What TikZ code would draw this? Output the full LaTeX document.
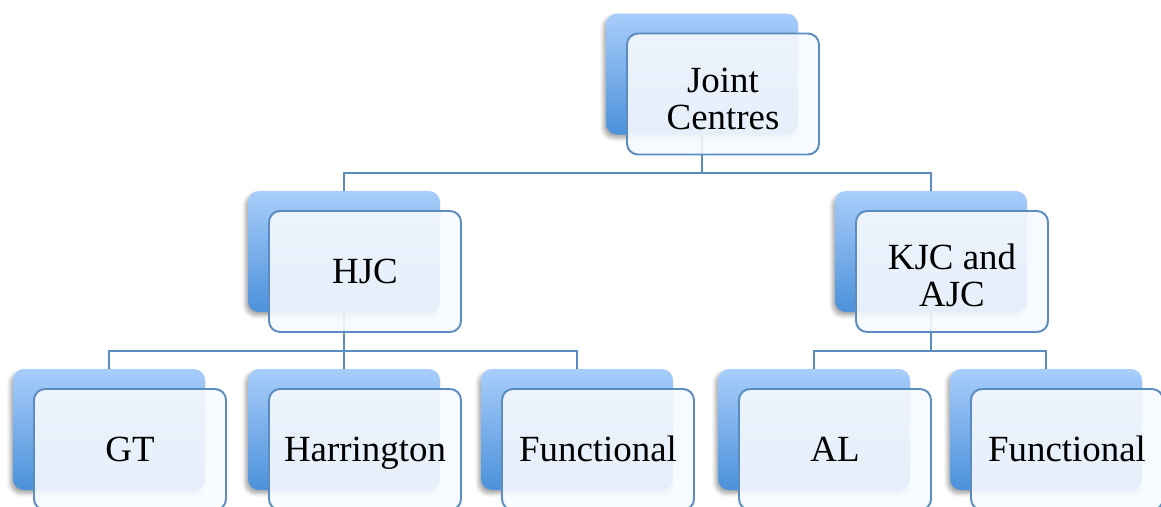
\documentclass[tikz,border=0pt]{standalone}
\usepackage{fontspec}
\setmainfont{Liberation Serif}
\usetikzlibrary{shadows.blur,backgrounds}
\definecolor{boxtop}{RGB}{168,205,251}
\definecolor{boxbot}{RGB}{76,145,218}
\definecolor{boxline}{RGB}{91,140,192}
\definecolor{boxfill}{RGB}{246,249,254}
\newcommand\capstrut{\rule[-5pt]{0pt}{24pt}}
\newcommand\highstrut{\rule{0pt}{24pt}}
\begin{document}
\begin{tikzpicture}[
    backbox/.style={rounded corners=0.22cm, minimum width=3.84cm, minimum height=2.42cm,
                    inner sep=0pt, top color=boxtop, bottom color=boxbot,
                    blur shadow={shadow xshift=-0.05cm, shadow yshift=-0.07cm,
                                 shadow blur radius=0.08cm, shadow opacity=35}},
    frontbox/.style={draw=boxline, line width=1.1pt, rounded corners=0.22cm,
                     minimum width=3.84cm, minimum height=2.42cm, inner sep=0pt,
                     fill=boxfill, fill opacity=0.9, text opacity=1, align=center,
                     font=\fontsize{21}{21}\selectfont,
                     execute at begin node=\capstrut, execute at end node=\capstrut},
    link/.style={draw=boxline, line width=1.1pt}
  ]
    \useasboundingbox (0,0) rectangle (23.22,-10.12);

    \node[backbox] (jc)   at (14.04,-1.48) {};
    \node[backbox] (hjc)  at (6.88,-5.03)  {};
    \node[backbox] (kjc)  at (18.62,-5.03) {};
    \node[backbox] (gt)   at (2.18,-8.59)  {};
    \node[backbox] (harr) at (6.88,-8.59)  {};
    \node[backbox] (funa) at (11.54,-8.59) {};
    \node[backbox] (al)   at (16.28,-8.59) {};
    \node[backbox] (funb) at (20.92,-8.59) {};

    \begin{scope}[on background layer]
      \draw[link] (jc.south)  -- ++(0,-0.76) -| (hjc.north);
      \draw[link] (jc.south)  -- ++(0,-0.76) -| (kjc.north);
      \draw[link] (hjc.south) -- ++(0,-0.78) -| (gt.north);
      \draw[link] (hjc.south) -- ++(0,-0.78) -| (harr.north);
      \draw[link] (hjc.south) -- ++(0,-0.78) -| (funa.north);
      \draw[link] (kjc.south) -- ++(0,-0.78) -| (al.north);
      \draw[link] (kjc.south) -- ++(0,-0.78) -| (funb.north);
    \end{scope}

    \node[frontbox] (jcf)   at ([shift={(0.42,-0.40)}]jc)   {\highstrut Joint\\Centres};
    \node[frontbox] (hjcf)  at ([shift={(0.42,-0.40)}]hjc)  {HJC};
    \node[frontbox] (kjcf)  at ([shift={(0.42,-0.40)}]kjc)  {\highstrut KJC and\\AJC};
    \node[frontbox] (gtf)   at ([shift={(0.42,-0.40)}]gt)   {GT};
    \node[frontbox] (harrf) at ([shift={(0.42,-0.40)}]harr) {Harrington};
    \node[frontbox] (funaf) at ([shift={(0.42,-0.40)}]funa) {Functional};
    \node[frontbox] (alf)   at ([shift={(0.42,-0.40)}]al)   {AL};
    \node[frontbox] (funbf) at ([shift={(0.42,-0.40)}]funb) {Functional};
  \end{tikzpicture}
\end{document}
